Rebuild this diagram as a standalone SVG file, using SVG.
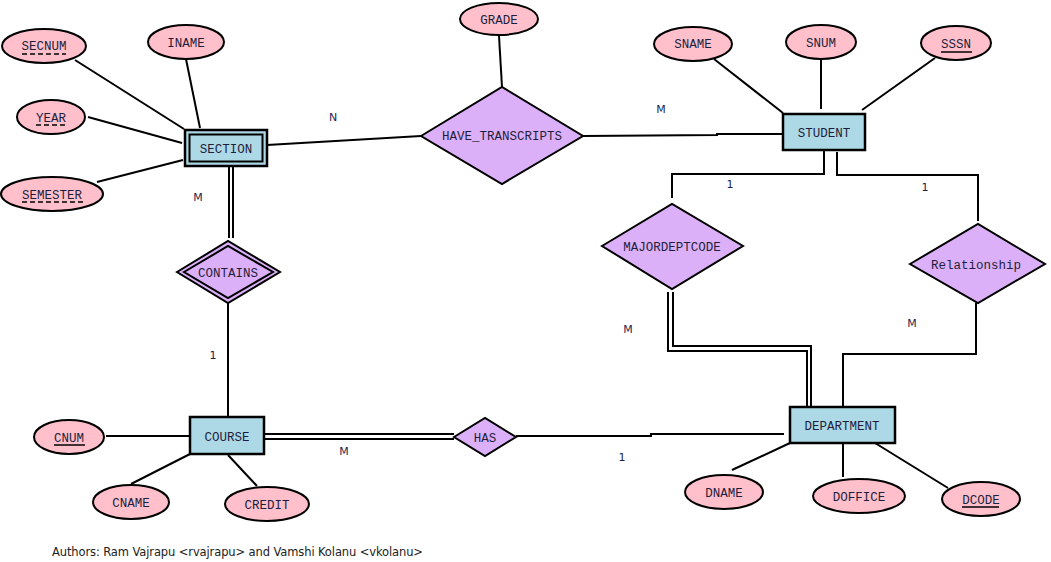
<svg xmlns="http://www.w3.org/2000/svg" width="1051" height="562" viewBox="0 0 1051 562">
<style>
.attr{fill:#ffc0cb;stroke:#000;stroke-width:2}
.ent{fill:#add8e6;stroke:#000;stroke-width:2.5}
.rel{fill:#dcb0f8;stroke:#000;stroke-width:2}
.t{font-family:"Liberation Mono",monospace;font-size:12.5px;fill:#1e1e3c;text-anchor:middle}
.c{stroke:#000;stroke-width:2;fill:none}
.lab{font-family:"DejaVu Sans","Liberation Sans",sans-serif;font-size:11px;fill:#1e1e50;text-anchor:middle}
.ul{stroke:#000;stroke-width:1.5}
.dul{stroke:#000;stroke-width:1.5;stroke-dasharray:5 3}
</style>
<rect width="1051" height="562" fill="#fff"/>
<g id="connectors">
<line class="c" x1="75" y1="60" x2="184" y2="129"/>
<line class="c" x1="186" y1="59" x2="200" y2="128"/>
<line class="c" x1="88" y1="117" x2="182" y2="143"/>
<line class="c" x1="97" y1="182" x2="183" y2="160"/>
<line class="c" x1="267" y1="145" x2="421" y2="136"/>
<line class="c" x1="499" y1="36" x2="502" y2="87"/>
<polyline class="c" points="583,136 717,135 717,134 783,134"/>
<line class="c" x1="714" y1="59" x2="783" y2="113"/>
<line class="c" x1="821" y1="60" x2="821" y2="109"/>
<line class="c" x1="935" y1="58" x2="862" y2="110"/>
<polyline class="c" points="824,150 824,174 672,174 672,198"/>
<polyline class="c" points="837,152 837,175 978,175 978,221"/>
<polyline class="c" points="976,303 976,354 843,354 843,407"/>
<polyline class="c" points="668,292 668,351 807,351 807,407"/>
<polyline class="c" points="673,292 673,346 811,346 811,407"/>
<line class="c" x1="229" y1="166" x2="229" y2="238"/>
<line class="c" x1="233" y1="166" x2="233" y2="238"/>
<line class="c" x1="228" y1="303" x2="228" y2="417"/>
<line class="c" x1="106" y1="436" x2="190" y2="436"/>
<line class="c" x1="264" y1="434" x2="454" y2="434"/>
<line class="c" x1="264" y1="439" x2="454" y2="439"/>
<polyline class="c" points="516,436 651,436 651,434 784,434"/>
<line class="c" x1="131" y1="484" x2="190" y2="454"/>
<line class="c" x1="257" y1="486" x2="228" y2="455"/>
<line class="c" x1="732" y1="470" x2="790" y2="443"/>
<line class="c" x1="843" y1="443" x2="843" y2="477"/>
<line class="c" x1="875" y1="443" x2="948" y2="488"/>
</g>
<g id="secnum"><ellipse class="attr" cx="44" cy="46" rx="42" ry="17"/><text class="t" x="44" y="50">SECNUM</text><line class="dul" x1="22" y1="54" x2="66" y2="54"/></g>
<g id="iname"><ellipse class="attr" cx="186" cy="42" rx="38" ry="17"/><text class="t" x="186" y="47">INAME</text></g>
<g id="year"><ellipse class="attr" cx="51" cy="117" rx="34" ry="17"/><text class="t" x="51" y="122">YEAR</text><line class="dul" x1="36" y1="125" x2="67" y2="125"/></g>
<g id="semester"><ellipse class="attr" cx="52" cy="194" rx="51" ry="17"/><text class="t" x="52" y="199">SEMESTER</text><line class="dul" x1="22" y1="202" x2="84" y2="202"/></g>
<g id="section"><rect class="ent" x="185" y="130" width="82" height="36"/><rect x="189.5" y="134.5" width="73" height="27" fill="none" stroke="#000" stroke-width="2"/><text class="t" x="226" y="153">SECTION</text></g>
<g id="grade"><ellipse class="attr" cx="499" cy="19" rx="39" ry="16"/><text class="t" x="499" y="24">GRADE</text></g>
<g id="have_transcripts"><polygon class="rel" points="421,136 502,87 583,136 502,184"/><text class="t" x="502" y="140">HAVE_TRANSCRIPTS</text></g>
<g id="student"><rect class="ent" x="783" y="114" width="82" height="36"/><text class="t" x="824" y="137">STUDENT</text></g>
<g id="sname"><ellipse class="attr" cx="693" cy="44" rx="39" ry="17"/><text class="t" x="693" y="48">SNAME</text></g>
<g id="snum"><ellipse class="attr" cx="821" cy="42" rx="35" ry="17"/><text class="t" x="821" y="47">SNUM</text></g>
<g id="sssn"><ellipse class="attr" cx="956" cy="43" rx="35" ry="17"/><text class="t" x="956" y="48">SSSN</text><line class="ul" x1="941" y1="52" x2="972" y2="52"/></g>
<g id="majordeptcode"><polygon class="rel" points="602,246 672,204 743,246 672,289"/><text class="t" x="672" y="251">MAJORDEPTCODE</text></g>
<g id="relationship"><polygon class="rel" points="910,264 978,224 1045,264 978,303"/><text class="t" x="976" y="269">Relationship</text></g>
<g id="contains"><polygon class="rel" points="177,272 228,241 280,272 228,303"/><polygon points="184,272 228,246 273,272 228,298" fill="none" stroke="#000" stroke-width="2"/><text class="t" x="228" y="277">CONTAINS</text></g>
<g id="course"><rect class="ent" x="190" y="417" width="74" height="37"/><text class="t" x="227" y="441">COURSE</text></g>
<g id="cnum"><ellipse class="attr" cx="69" cy="437" rx="35" ry="17"/><text class="t" x="69" y="442">CNUM</text><line class="ul" x1="54" y1="445" x2="85" y2="445"/></g>
<g id="cname"><ellipse class="attr" cx="131" cy="502" rx="38" ry="17"/><text class="t" x="131" y="507">CNAME</text></g>
<g id="credit"><ellipse class="attr" cx="267" cy="504" rx="42" ry="17"/><text class="t" x="267" y="509">CREDIT</text></g>
<g id="has"><polygon class="rel" points="454,437 485,418 516,437 485,456"/><text class="t" x="485" y="442">HAS</text></g>
<g id="department"><rect class="ent" x="790" y="407" width="105" height="36"/><text class="t" x="842" y="430">DEPARTMENT</text></g>
<g id="dname"><ellipse class="attr" cx="724" cy="492" rx="39" ry="17"/><text class="t" x="724" y="497">DNAME</text></g>
<g id="doffice"><ellipse class="attr" cx="859" cy="496" rx="46" ry="17"/><text class="t" x="859" y="501">DOFFICE</text></g>
<g id="dcode"><ellipse class="attr" cx="981" cy="499" rx="39" ry="17"/><text class="t" x="981" y="504">DCODE</text><line class="ul" x1="962" y1="507" x2="999" y2="507"/></g>
<g id="labels">
<text class="lab" x="333" y="121">N</text>
<text class="lab" x="661" y="113">M</text>
<text class="lab" x="198" y="201">M</text>
<text class="lab" x="730" y="188">1</text>
<text class="lab" x="925" y="191">1</text>
<text class="lab" x="628" y="333">M</text>
<text class="lab" x="912" y="327">M</text>
<text class="lab" x="213" y="359">1</text>
<text class="lab" x="344" y="455">M</text>
<text class="lab" x="622" y="461">1</text>
</g>
<text x="52" y="556" font-family="DejaVu Sans, Liberation Sans, sans-serif" font-size="11.5px" fill="#222" textLength="371">Authors: Ram Vajrapu &lt;rvajrapu&gt; and Vamshi Kolanu &lt;vkolanu&gt;</text>
</svg>
